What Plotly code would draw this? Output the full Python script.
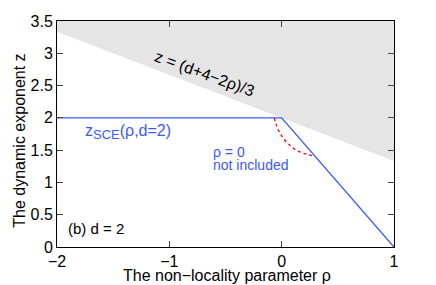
import plotly.graph_objects as go

# Data
d = 2
rho_range = [-2, 1]
z_top = 3.5
rho_sce = [-2, 0, 1]
z_sce = [2, 2, 0]
rho_red = [-0.065, -0.055, -0.04, -0.02, 0.0, 0.03, 0.07, 0.12, 0.18, 0.24, 0.28]
z_red = [2.0, 1.93, 1.85, 1.78, 1.72, 1.65, 1.58, 1.51, 1.46, 1.43, 1.41]
y_ticks = [0, 0.5, 1, 1.5, 2, 2.5, 3, 3.5]
y_ticklabels = ["0", "0.5", "1", "1.5", "2", "2.5", "3", "3.5"]
x_ticks = [-2, -1, 0, 1]

z_bound = [(d + 4 - 2 * r) / 3 for r in rho_range]

FONT = "Liberation Sans, Arial, sans-serif"
BLUE = "#3a5aff"

fig = go.Figure()
# gray region above boundary line
fig.add_trace(go.Scatter(
    x=rho_range + rho_range[::-1],
    y=z_bound + [z_top, z_top],
    fill="toself", fillcolor="#e5e5e5", line=dict(width=0),
    mode="lines", hoverinfo="skip", showlegend=False))
fig.add_trace(go.Scatter(x=rho_sce, y=z_sce, mode="lines",
                         line=dict(color=BLUE, width=1.4), showlegend=False))
fig.add_trace(go.Scatter(x=rho_red, y=z_red, mode="lines",
                         line=dict(color="#ff0000", width=1.3, dash="3px,3px"),
                         line_shape="spline", showlegend=False))

fig.update_layout(
    width=436, height=285,
    margin=dict(l=57, r=42, t=21, b=38),
    plot_bgcolor="white", paper_bgcolor="white",
    font=dict(family=FONT, size=15, color="black"),
    xaxis=dict(range=[-2, 1], tickvals=x_ticks, ticks="inside", ticklen=6,
               showline=True, linecolor="black", linewidth=1, mirror="ticks",
               showgrid=False, zeroline=False, tickfont=dict(size=16)),
    yaxis=dict(range=[0, 3.5], tickvals=y_ticks, ticktext=y_ticklabels,
               ticks="inside", ticklen=6,
               showline=True, linecolor="black", linewidth=1, mirror="ticks",
               showgrid=False, zeroline=False, tickfont=dict(size=16)),
)

# axis titles
fig.add_annotation(xref="paper", yref="paper", x=0.503, y=-0.125,
                   text="The non\u2212locality parameter \u03c1", showarrow=False,
                   xanchor="center", yanchor="middle", font=dict(size=16))
fig.add_annotation(xref="paper", yref="paper", x=-0.11, y=0.47,
                   text="The dynamic exponent z", showarrow=False, textangle=-90,
                   xanchor="center", yanchor="middle", font=dict(size=16))

fig.add_annotation(x=-0.69, y=2.68, text="z = (d+4\u22122\u03c1)/3", showarrow=False,
                   textangle=20, font=dict(size=16, color="black"))
fig.add_annotation(x=-1.77, y=1.78,
                   text="z<sub><span style=\"font-size:13px\">SCE</span></sub>(\u03c1,d=2)",
                   showarrow=False, xanchor="left", font=dict(size=16, color=BLUE))
fig.add_annotation(x=-0.63, y=1.475, text="\u03c1 = 0", showarrow=False,
                   xanchor="left", font=dict(size=14, color=BLUE))
fig.add_annotation(x=-0.63, y=1.27, text="not included", showarrow=False,
                   xanchor="left", font=dict(size=14, color=BLUE))
fig.add_annotation(x=-1.92, y=0.28, text="(b) d = 2", showarrow=False,
                   xanchor="left", font=dict(size=15, color="black"))

fig.write_html("out.html", config={"displayModeBar": False},
               post_script="document.body.style.margin='0';")
